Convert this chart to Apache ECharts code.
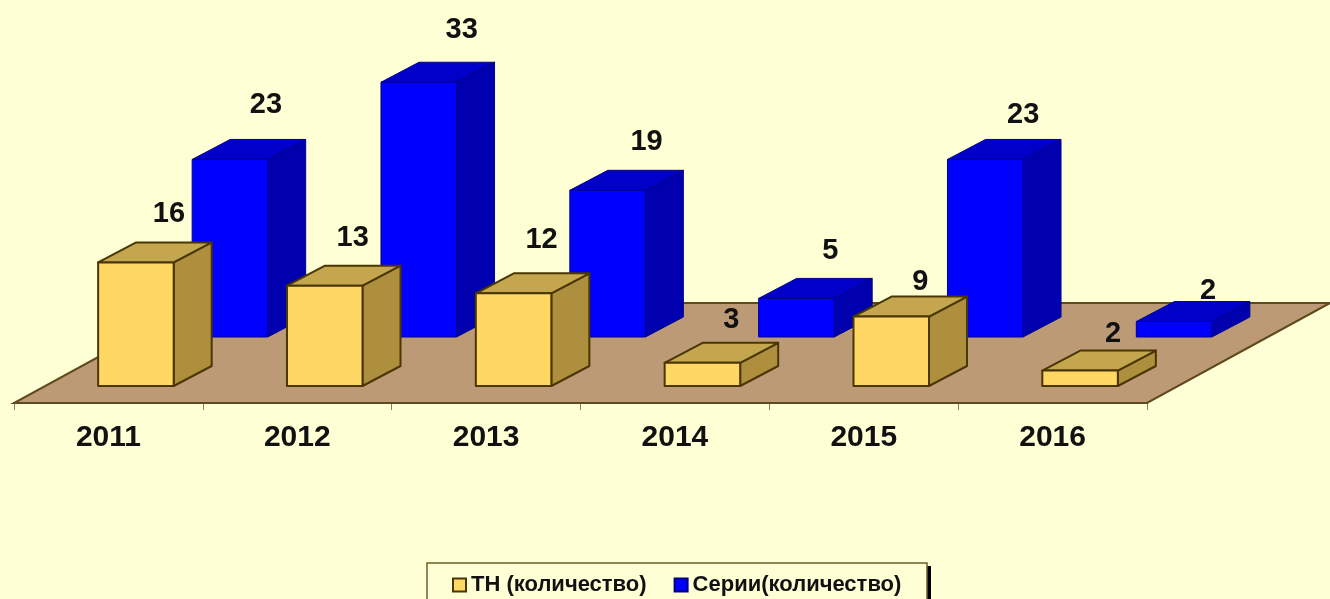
<!DOCTYPE html>
<html>
<head>
<meta charset="utf-8">
<style>
  html, body { margin: 0; padding: 0; background: #FFFFD6; }
  #chart { width: 1330px; height: 599px; }
</style>
<script src="https://cdn.jsdelivr.net/npm/echarts@6/dist/echarts.min.js"></script>
</head>
<body>
<div id="chart"></div>
<script>
const years = ["2011", "2012", "2013", "2014", "2015", "2016"];
const thValues = [16, 13, 12, 3, 9, 2];
const seriesValues = [23, 33, 19, 5, 23, 2];
const thName = "ТН (количество)";
const seriesName = "Серии(количество)";

const font = "Liberation Sans";
const bg = "#FFFFD6";
// глубина пола и столбика в пикселях
const floorDepth = { x: 183, y: -100 };
const barDepth = { x: 38, y: -20 };
// в оригинале подписи расставлены вручную, поэтому поправки [dx, dy]
const thLabelNudge = [[4, -1], [-1, -1], [-1, -6], [0, 4], [0, 12], [4, 10]];
const seriesLabelNudge = [[0, -4], [7, -2], [3, 2], [-2, 3], [2, 6], [-2, 19]];

// пол рисуем от границ сетки
function renderFloor(params, api) {
  const g = params.coordSys;
  const bottom = g.y + g.height;
  return {
    type: "polygon",
    shape: {
      points: [
        [g.x, bottom],
        [g.x + g.width, bottom],
        [g.x + g.width + floorDepth.x, bottom + floorDepth.y],
        [g.x + floorDepth.x, bottom + floorDepth.y],
      ],
    },
    style: { fill: "#BC9A76", stroke: "#5E4A1C", lineWidth: 2 },
  };
}

// один столбик: передняя грань, бок, верх и подпись
function makeBoxRender(colors, shift, labelShift, nudge) {
  return function (params, api) {
    const top = api.coord([api.value(0), api.value(1)]);
    const base = api.coord([api.value(0), 0]);
    const w = api.size([1, 0])[0] * 0.4;
    const x0 = base[0] - w / 2 + shift.x;
    const x1 = x0 + w;
    const yb = base[1] + shift.y;
    const yt = top[1] + shift.y;
    const dx = barDepth.x;
    const dy = barDepth.y;
    const n = nudge[params.dataIndex];
    const line = { stroke: colors.line, lineWidth: colors.lineWidth, lineJoin: "round" };
    return {
      type: "group",
      children: [
        {
          type: "polygon",
          shape: { points: [[x1, yb], [x1 + dx, yb + dy], [x1 + dx, yt + dy], [x1, yt]] },
          style: Object.assign({ fill: colors.side }, line),
        },
        {
          type: "polygon",
          shape: { points: [[x0, yt], [x1, yt], [x1 + dx, yt + dy], [x0 + dx, yt + dy]] },
          style: Object.assign({ fill: colors.top }, line),
        },
        {
          type: "rect",
          shape: { x: x0, y: yt, width: w, height: yb - yt },
          style: Object.assign({ fill: colors.front }, line),
        },
        {
          type: "text",
          style: {
            text: String(api.value(1)),
            x: x0 + w / 2 + labelShift.x + n[0],
            y: yt + labelShift.y + n[1],
            align: "center",
            verticalAlign: "middle",
            fill: "#111",
            font: "bold 29px '" + font + "'",
          },
        },
      ],
    };
  };
}

const chart = echarts.init(document.getElementById("chart"), null, { renderer: "canvas" });

chart.setOption({
  animation: false,
  backgroundColor: bg,
  grid: { left: 14, top: 17, width: 1133, height: 386, containLabel: false },
  // рамка легенды с чёрной тенью справа
  graphic: [
    { type: "rect", z: 5, shape: { x: 431, y: 566, width: 500, height: 44 }, style: { fill: "#000" } },
    {
      type: "rect",
      z: 6,
      shape: { x: 427, y: 563, width: 500, height: 44 },
      style: { fill: bg, stroke: "#6B5F2A", lineWidth: 1.5 },
    },
  ],
  legend: {
    left: 427,
    top: 566,
    z: 7,
    padding: [8, 25, 8, 25],
    itemGap: 27,
    itemWidth: 13,
    itemHeight: 13,
    icon: "rect",
    data: [thName, seriesName],
    textStyle: { color: "#111", fontFamily: font, fontWeight: "bold", fontSize: 22 },
  },
  xAxis: {
    type: "category",
    data: years,
    axisLine: { lineStyle: { color: "#5E4A1C", width: 2 } },
    axisTick: { show: true, length: 7, lineStyle: { color: "#8A8060" } },
    axisLabel: {
      color: "#111",
      fontFamily: font,
      fontWeight: "bold",
      fontSize: 30,
      margin: 20,
    },
  },
  yAxis: { type: "value", min: 0, max: 50, show: false, splitLine: { show: false } },
  series: [
    {
      type: "custom",
      name: "floor",
      silent: true,
      z: 1,
      renderItem: renderFloor,
      data: [[0, 0]],
    },
    {
      type: "custom",
      name: seriesName,
      z: 2,
      itemStyle: { color: "#0000FF", borderColor: "#00007A", borderWidth: 1 },
      renderItem: makeBoxRender(
        { front: "#0000FF", side: "#0000AE", top: "#0000C8", line: "#00008C", lineWidth: 1 },
        { x: 121.5, y: -66 },
        { x: 36, y: -50 },
        seriesLabelNudge
      ),
      encode: { x: 0, y: 1 },
      data: seriesValues.map((v, i) => [i, v]),
    },
    {
      type: "custom",
      name: thName,
      z: 3,
      itemStyle: { color: "#FFD765", borderColor: "#4A3600", borderWidth: 1 },
      renderItem: makeBoxRender(
        { front: "#FFD765", side: "#AD8F3E", top: "#C4A64F", line: "#4A3600", lineWidth: 2 },
        { x: 27.5, y: -17 },
        { x: 29, y: -47 },
        thLabelNudge
      ),
      encode: { x: 0, y: 1 },
      data: thValues.map((v, i) => [i, v]),
    },
  ],
});

window.addEventListener("resize", () => {
  chart.resize();
});
</script>
</body>
</html>
